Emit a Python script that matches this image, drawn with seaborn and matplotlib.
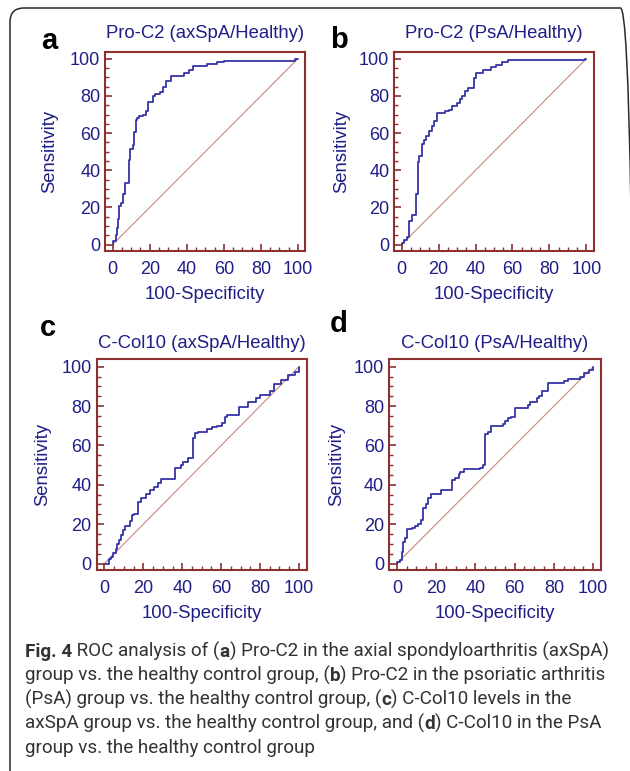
import numpy as np
import pandas as pd
import matplotlib
matplotlib.use("Agg")
import matplotlib.pyplot as plt
import seaborn as sns
from matplotlib.patches import FancyBboxPatch
from matplotlib.transforms import IdentityTransform
from matplotlib.ticker import MultipleLocator
from matplotlib import font_manager

# ---------------- data (ROC step corners: 100-Specificity, Sensitivity) ----------------
a_fpr = [0, 0, 1.8, 2.3, 2.9, 3.6, 4.5, 5.4, 6.8, 8.6, 9.5, 10.8, 11.4, 12.4, 13.2, 14.4,
         16.4, 18.2, 19.1, 21.8, 22.7, 25.8, 27.2, 29.0, 31.7, 38.4, 41.1, 43.4, 51.0, 56.4,
         60.0, 98.5, 100]
a_tpr = [0, 1.8, 5.4, 9.0, 13.8, 21.0, 22.4, 27.4, 33.0, 45.7, 51.4, 53.8, 60.4, 66.8, 68.0, 69.0,
         70.0, 71.7, 76.5, 79.7, 81.0, 81.9, 84.8, 87.8, 90.5, 92.3, 93.7, 96.2, 97.3, 98.4,
         99.0, 100, 100]

b_fpr = [0, 0, 1.25, 2.7, 3.75, 5.5, 7.5, 8.75, 9.5, 11.25, 12.1, 13.4, 14.8, 16.25, 17.3, 19.1,
         23.2, 25.5, 27.3, 30.0, 31.8, 32.5, 34.5, 35.7, 39.3, 40.5, 44.3, 48.2, 50.9, 54.5, 57.5,
         99.5, 100]
b_tpr = [0, 0.9, 2.3, 4.1, 12.5, 15.8, 27.2, 44.3, 47.8, 54.1, 56.5, 58.2, 61.3, 63.6, 66.7, 70.8,
         71.7, 72.6, 74.7, 76.2, 78.3, 80.1, 82.4, 84.2, 89.6, 92.6, 93.7, 95.3, 96.8, 98.0, 99.1,
         100, 100]

c_fpr = [0, 2.4, 3.4, 4.6, 5.8, 6.6, 7.5, 8.5, 9.7, 10.5, 13.1, 13.9, 15.3, 17.3, 19.0, 21.5,
         23.2, 25.4, 27.5, 29.2, 36.4, 39.3, 40.2, 43.2, 45.3, 46.6, 48.1, 52.9, 55.4, 58.0,
         60.5, 61.9, 63.1, 69.0, 73.7, 77.8, 80.0, 85.1, 87.1, 91.0, 94.4, 97.8, 99.8, 100]
c_tpr = [0, 2.2, 3.4, 5.1, 7.3, 9.7, 11.9, 14.4, 16.9, 19.2, 21.5, 24.6, 25.4, 31.4, 33.4, 35.1,
         37.3, 39.0, 40.7, 43.2, 48.3, 50.0, 51.7, 53.4, 63.9, 66.1, 66.9, 68.3, 69.5, 70.0,
         71.2, 74.6, 75.4, 79.7, 81.9, 83.9, 85.9, 87.6, 91.0, 93.2, 95.8, 97.1, 99.5, 100]

d_fpr = [0, 0, 1.5, 2.4, 3.2, 4.2, 5.1, 7.6, 9.3, 11.0, 12.2, 13.3, 14.7, 16.0, 17.6, 22.3,
         28.2, 29.4, 31.6, 32.4, 34.1, 42.2, 43.9, 45.1, 46.3, 48.1, 53.9, 55.2, 56.6, 58.3,
         60.3, 66.6, 67.9, 71.3, 72.5, 73.8, 76.9, 85.1, 87.3, 93.2, 95.3, 97.8, 100, 100]
d_tpr = [0, 0.8, 1.7, 5.9, 10.7, 13.0, 17.5, 18.1, 19.2, 20.3, 22.0, 28.3, 30.0, 33.4, 35.1, 37.3,
         42.7, 43.6, 45.3, 46.6, 47.8, 48.6, 50.0, 65.6, 66.9, 70.0, 70.7, 72.4, 74.1, 74.6,
         78.8, 80.8, 81.9, 83.9, 85.3, 87.8, 92.0, 93.0, 93.7, 94.9, 96.6, 98.3, 99.7, 100]

titles = ["Pro-C2 (axSpA/Healthy)", "Pro-C2 (PsA/Healthy)",
          "C-Col10 (axSpA/Healthy)", "C-Col10 (PsA/Healthy)"]
letters = ["a", "b", "c", "d"]
x_label = "100-Specificity"
y_label = "Sensitivity"
tick_values = [0, 20, 40, 60, 80, 100]
diag = [0, 100]

caption_lines = [
    [("Fig. 4", True), (" ROC analysis of (", False), ("a", True),
     (") Pro-C2 in the axial spondyloarthritis (axSpA)", False)],
    [("group vs. the healthy control group, (", False), ("b", True),
     (") Pro-C2 in the psoriatic arthritis", False)],
    [("(PsA) group vs. the healthy control group, (", False), ("c", True),
     (") C-Col10 levels in the", False)],
    [("axSpA group vs. the healthy control group, and (", False), ("d", True),
     (") C-Col10 in the PsA", False)],
    [("group vs. the healthy control group", False)],
]

# ---------------- style ----------------
sns.set_style("white")
plt.rcParams['font.family'] = ['Liberation Sans', 'DejaVu Sans']
plt.rcParams.update({
    "xtick.bottom": True, "ytick.left": True, "xtick.top": False, "ytick.right": False,
    "xtick.direction": "in", "ytick.direction": "in",
    "xtick.minor.visible": True, "ytick.minor.visible": True,
    "axes.axisbelow": False,
})

NAVY = "#1e1e86"
CURVE = "#3434a6"
FRAME = "#8c3030"
DIAG = "#c9887e"
CAPC = "#333333"

W, H = 630, 771
fig = plt.figure(figsize=(W / 100, H / 100), dpi=100)
fig.patch.set_facecolor("white")


def rect(l, t, r, b):
    return [l / W, 1 - b / H, (r - l) / W, (b - t) / H]


panels = [
    dict(box=(105.3, 51.7, 305.3, 250.7), fpr=a_fpr, tpr=a_tpr, title_dy=17.7, xl_dy=44.3,
         yl_dx=55.3, letter_xy=(49, 41)),
    dict(box=(394.3, 51.7, 593.7, 250.7), fpr=b_fpr, tpr=b_tpr, title_dy=17.7, xl_dy=44.3,
         yl_dx=52.6, letter_xy=(339, 40)),
    dict(box=(96.7, 359.3, 306.7, 570.0), fpr=c_fpr, tpr=c_tpr, title_dy=16.0, xl_dy=43.0,
         yl_dx=53.7, letter_xy=(48, 328)),
    dict(box=(389.0, 359.3, 601.0, 570.0), fpr=d_fpr, tpr=d_tpr, title_dy=16.0, xl_dy=43.0,
         yl_dx=52.3, letter_xy=(339, 324)),
]

for i, p in enumerate(panels):
    l, t, r, b = p["box"]
    ax = fig.add_axes(rect(l, t, r, b))
    wpx, hpx = r - l, b - t
    df = pd.DataFrame({"fpr": p["fpr"], "tpr": p["tpr"]})
    sns.lineplot(x=diag, y=diag, ax=ax, color=DIAG, lw=0.8, estimator=None, sort=False)
    sns.lineplot(data=df, x="fpr", y="tpr", ax=ax, color=CURVE, lw=1.3, estimator=None,
                 sort=False, drawstyle="steps-post")
    ax.set_xlim(-4, 104)
    ax.set_ylim(-3.3, 103.8)
    ax.set_xticks(tick_values)
    ax.set_yticks(tick_values)
    ax.xaxis.set_minor_locator(MultipleLocator(5))
    ax.yaxis.set_minor_locator(MultipleLocator(5))
    for axis in (ax.xaxis, ax.yaxis):
        axis.set_tick_params(which="major", direction="in", length=5.0, width=1.2,
                             color=FRAME, labelcolor=NAVY, labelsize=13)
        axis.set_tick_params(which="minor", direction="in", length=3.0, width=1.0,
                             color=FRAME)
    ax.xaxis.set_tick_params(which="both", bottom=True, top=False)
    ax.yaxis.set_tick_params(which="both", left=True, right=False)
    ax.xaxis.set_tick_params(which="major", pad=7.5)
    ax.yaxis.set_tick_params(which="major", pad=3.6)
    for s in ax.spines.values():
        s.set_visible(True)
        s.set_color(FRAME)
        s.set_linewidth(1.5)
    ax.set_title(titles[i], color=NAVY, fontsize=13.3, va="center",
                 y=1 + p["title_dy"] / hpx, pad=0)
    ax.set_xlabel(x_label, color=NAVY, fontsize=13.3, va="center")
    ax.xaxis.set_label_coords(0.5, -p["xl_dy"] / hpx)
    ax.set_ylabel(y_label, color=NAVY, fontsize=13.3, va="center")
    ax.yaxis.set_label_coords(-p["yl_dx"] / wpx, 0.5)
    lx, ly = p["letter_xy"]
    fig.text(lx / W, 1 - ly / H, letters[i], fontsize=21, fontweight="bold", color="black",
             ha="center", va="center")

# ---------------- rounded border (right edge falls just off the picture) ----------------
border = FancyBboxPatch((10, -40), 624.5, H - 8 + 40, boxstyle="round,pad=0,rounding_size=14",
                        transform=IdentityTransform(), facecolor="none", edgecolor="#2a2a2a",
                        linewidth=1.1)
fig.add_artist(border)

# ---------------- caption ----------------
names = {f.name for f in font_manager.fontManager.ttflist}
cap_family = "Roboto" if "Roboto" in names else "Open Sans"
renderer = fig.canvas.get_renderer()


def run_width(runs, size):
    tot = 0
    for txt, bold in runs:
        tt = fig.text(0, 0, txt, fontsize=size, family=cap_family,
                      fontweight="bold" if bold else "normal")
        tot += tt.get_window_extent(renderer).width
        tt.remove()
    return tot


base = 10.0
w0 = run_width(caption_lines[0], base)
cap_size = base * 587.0 / w0

line_base = [657, 681, 705, 729, 753]
for runs, y in zip(caption_lines, line_base):
    x = 25.0
    for txt, bold in runs:
        tt = fig.text(x / W, 1 - y / H, txt, fontsize=cap_size, family=cap_family,
                      fontweight="bold" if bold else "normal", color=CAPC,
                      ha="left", va="baseline")
        x += tt.get_window_extent(renderer).width

fig.savefig("out.png", dpi=100, facecolor="white")
